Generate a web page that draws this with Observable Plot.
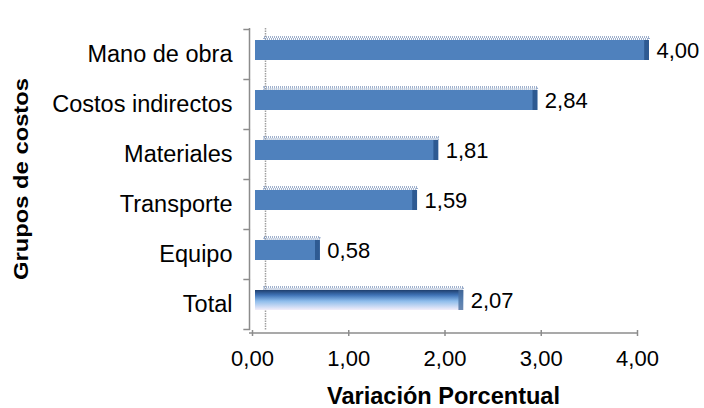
<!DOCTYPE html>
<html>
<head>
<meta charset="utf-8">
<script src="https://cdn.jsdelivr.net/npm/d3@7"></script>
<script src="https://cdn.jsdelivr.net/npm/@observablehq/plot@0.6"></script>
<style>
  html, body { margin: 0; padding: 0; background: #fff; }
  #chart svg { display: block; }
</style>
</head>
<body>
<div id="chart"></div>
<script>
const categories = ["Mano de obra", "Costos indirectos", "Materiales", "Transporte", "Equipo", "Total"];
const values = [4.00, 2.84, 1.81, 1.59, 0.58, 2.07];
const xTicks = [0, 1, 2, 3, 4];
const xTitle = "Variación Porcentual";
const yTitle = "Grupos de costos";

const data = categories.map((c, i) => ({cat: c, value: values[i]}));
const groups = data.filter(d => d.cat !== "Total");
const totals = data.filter(d => d.cat === "Total");
const fmt = v => d3.format(".2f")(v).replace(".", ",");

const plot = Plot.plot({
  width: 704,
  height: 408,
  marginLeft: 252,
  marginRight: 67,
  marginTop: 28,
  marginBottom: 78,
  style: {fontFamily: "'Liberation Sans', Arial, sans-serif", background: "#fff"},
  x: {domain: [0, 4], ticks: xTicks, tickFormat: fmt},
  y: {domain: categories, paddingInner: 0.6, paddingOuter: 0.3},
  marks: [
    // back wall dotted line
    Plot.ruleX([0], {dx: 13, stroke: "#a0a0a0", strokeWidth: 1.5, strokeDasharray: "1.5,1"}),
    // left axis line
    Plot.ruleX([0], {stroke: "#8c8c8c", strokeWidth: 1.5, dx: -3}),
    // category boundary ticks
    Plot.ruleY(categories, {y: d => d, x1: -0.09, x2: -0.02, dy: -25, stroke: "#8c8c8c", strokeWidth: 1.5}),
    Plot.ruleY(categories.slice(-1), {y: d => d, x1: -0.09, x2: -0.02, dy: 25, stroke: "#8c8c8c", strokeWidth: 1.5}),
    // bar top edges (3D depth), dotted
    Plot.barX(data, {x: "value", y: "cat", fill: "none", stroke: "#7f97bd", strokeWidth: 1.5, strokeDasharray: "1,1", insetLeft: 12, insetRight: -12, insetTop: -3, insetBottom: 21, dy: -4}),
    // bars
    Plot.barX(groups, {x: "value", y: "cat", fill: "#4F81BD", insetLeft: 3, insetRight: -12, dy: -4}),
    Plot.barX(groups, {x1: d => d.value - 0.05, x2: "value", y: "cat", fill: "#2E5A92", dx: 12, dy: -4}),
    Plot.barX(totals, {x: "value", y: "cat", fill: "url(#totalGrad)", insetLeft: 3, insetRight: -12, dy: -4}),
    Plot.barX(totals, {x1: d => d.value - 0.05, x2: "value", y: "cat", fill: "#4a6f9f", opacity: 0.8, dx: 12, dy: -4}),
    // values
    Plot.text(data, {x: "value", y: "cat", text: d => fmt(d.value), dx: 19, dy: -4, textAnchor: "start", fontSize: 22, fill: "#000"}),
    // x axis
    Plot.axisX({ticks: xTicks, tickFormat: fmt, tickSize: 6, tickPadding: 14, fontSize: 22, stroke: "#8c8c8c", strokeWidth: 1.5, fill: "#000", label: null}),
    Plot.axisY({tickSize: 0, tickPadding: 20, fontSize: 23.5, fill: "#000", label: null})
  ]
});

const svg = d3.select(plot);
// gradient for total bar
const defs = svg.insert("defs", ":first-child");
const g = defs.append("linearGradient").attr("id", "totalGrad").attr("x1", 0).attr("y1", 0).attr("x2", 0).attr("y2", 1);
g.append("stop").attr("offset", "0%").attr("stop-color", "#1F3F6E");
g.append("stop").attr("offset", "25%").attr("stop-color", "#3F72B5");
g.append("stop").attr("offset", "55%").attr("stop-color", "#8DBCEB");
g.append("stop").attr("offset", "100%").attr("stop-color", "#F3EEFA");

// x axis line
svg.append("line").attr("x1", 249).attr("x2", 637).attr("y1", 333).attr("y2", 333)
  .attr("stroke", "#8c8c8c").attr("stroke-width", 1.5);

// axis titles
svg.append("text").attr("x", 443.5).attr("y", 404).attr("text-anchor", "middle")
  .attr("font-size", 23).attr("font-weight", "bold").attr("textLength", 233).attr("lengthAdjust", "spacingAndGlyphs")
  .attr("fill", "#000").text(xTitle);
svg.append("text").attr("transform", `translate(28,179) rotate(-90)`).attr("text-anchor", "middle")
  .attr("font-size", 21).attr("font-weight", "bold").attr("textLength", 202).attr("lengthAdjust", "spacingAndGlyphs")
  .attr("fill", "#000").text(yTitle);

document.getElementById("chart").appendChild(plot);
</script>
</body>
</html>
